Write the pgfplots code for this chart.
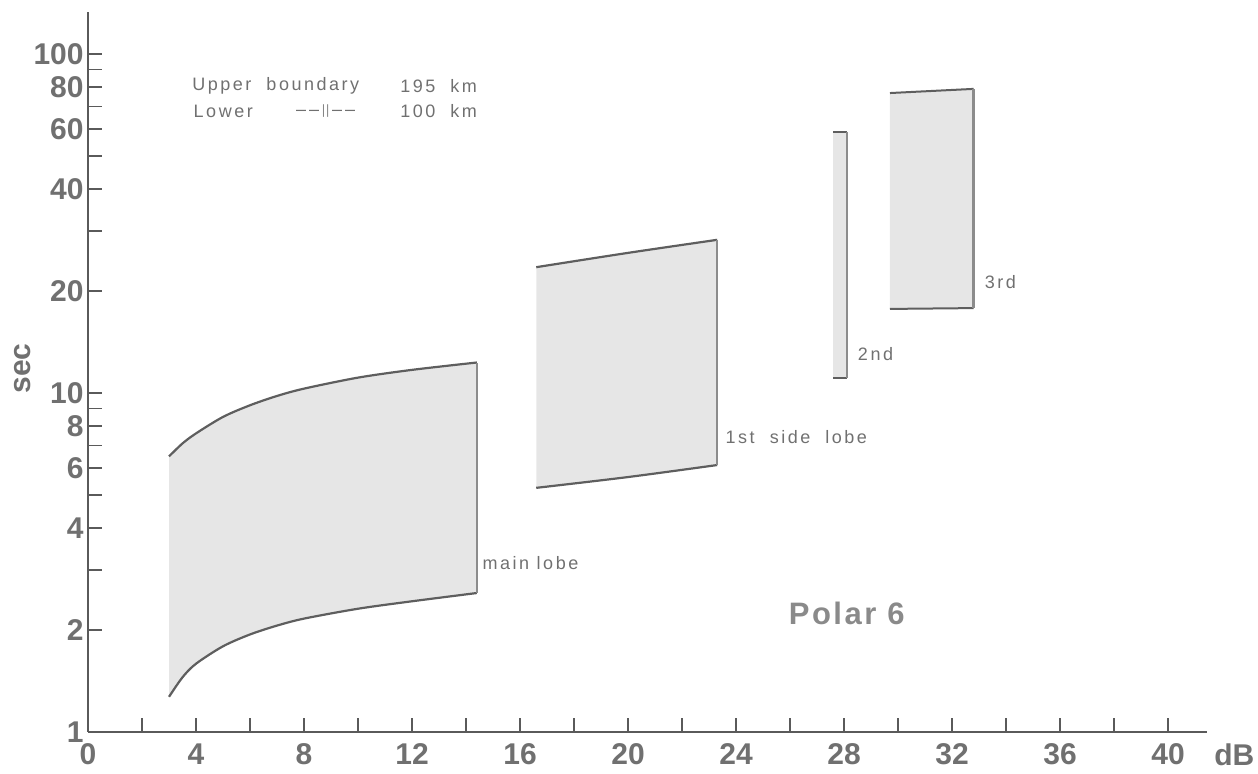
\documentclass[border=0pt]{standalone}
\usepackage{pgfplots}
\pgfplotsset{compat=1.18}
\usepgfplotslibrary{fillbetween}
\usepackage{fontspec}
\setmainfont{Liberation Sans}
\newfontfamily\lblfont[LetterSpace=14]{Liberation Sans}
\newfontfamily\polfont[LetterSpace=8]{Liberation Sans}
\definecolor{axgray}{HTML}{5A5A5A}
\definecolor{txtgray}{HTML}{707070}
\definecolor{lightgray}{HTML}{8A8A8A}
\definecolor{fillgray}{HTML}{E6E6E6}
\definecolor{edgegray}{HTML}{8C8C8C}
\definecolor{curvegray}{HTML}{5E5E5E}
\begin{document}
\begin{tikzpicture}
\begin{axis}[
  scale only axis, width=559.5pt, height=360pt,
  at={(0,0)}, anchor=south west,
  ymode=log, xmin=0, xmax=41.44, ymin=1, ymax=133,
  axis x line=bottom, axis y line=left,
  axis line style={-, draw=axgray, line width=1pt},
  tick align=inside,
  major tick length=7pt, minor tick length=7pt,
  every tick/.style={draw=axgray, line width=0.9pt},
  xtick={0,4,...,40}, minor xtick={2,6,...,38},
  xticklabels={0,4,8,12,16,20,24,28,32,36,40},
  ytick={1,2,4,6,8,10,20,40,60,80,100},
  yticklabels={1,2,4,6,8,10,20,40,60,80,100},
  minor ytick={3,5,7,9,30,50,70,90},
  ticklabel style={font=\fontsize{15}{15}\selectfont\bfseries, text=txtgray},
  xticklabel style={inner sep=0pt, yshift=-5.5pt},
  yticklabel style={inner sep=2pt},
  /pgf/number format/assume math mode=true,
  clip=false,
]
% main lobe
\addplot[name path=mU, draw=none, smooth] coordinates {(3,6.5)(3.5,7.1)(4,7.6)(5,8.5)(6,9.2)(7,9.8)(8,10.3)(10,11.1)(12,11.7)(14.4,12.3)};
\addplot[name path=mL, draw=none, smooth] coordinates {(3,1.27)(3.5,1.45)(4,1.59)(5,1.79)(6,1.94)(7,2.06)(8,2.16)(10,2.31)(12,2.43)(14.4,2.57)};
\addplot[fillgray] fill between[of=mU and mL];
% 1st side lobe
\addplot[name path=sU, draw=none, smooth] coordinates {(16.6,23.5)(20,25.9)(23.3,28.3)};
\addplot[name path=sL, draw=none, smooth] coordinates {(16.6,5.25)(20,5.65)(23.3,6.13)};
\addplot[fillgray] fill between[of=sU and sL];
% 2nd
\addplot[name path=tU, draw=none] coordinates {(27.6,59)(28.1,59)};
\addplot[name path=tL, draw=none] coordinates {(27.6,11.1)(28.1,11.1)};
\addplot[fillgray] fill between[of=tU and tL];
% 3rd
\addplot[name path=rU, draw=none] coordinates {(29.7,76.7)(32.8,78.9)};
\addplot[name path=rL, draw=none] coordinates {(29.7,17.7)(32.8,17.8)};
\addplot[fillgray] fill between[of=rU and rL];
% outlines
\addplot[curvegray, line width=1.1pt, smooth] coordinates {(3,6.5)(3.5,7.1)(4,7.6)(5,8.5)(6,9.2)(7,9.8)(8,10.3)(10,11.1)(12,11.7)(14.4,12.3)};
\addplot[curvegray, line width=1.1pt, smooth] coordinates {(3,1.27)(3.5,1.45)(4,1.59)(5,1.79)(6,1.94)(7,2.06)(8,2.16)(10,2.31)(12,2.43)(14.4,2.57)};
\addplot[edgegray, line width=1.3pt] coordinates {(14.4,2.57)(14.4,12.3)};
\addplot[curvegray, line width=1.1pt, smooth] coordinates {(16.6,23.5)(20,25.9)(23.3,28.3)};
\addplot[curvegray, line width=1.1pt, smooth] coordinates {(16.6,5.25)(20,5.65)(23.3,6.13)};
\addplot[edgegray, line width=1.3pt] coordinates {(23.3,6.13)(23.3,28.3)};
\addplot[curvegray, line width=1pt] coordinates {(27.6,59)(28.1,59)};
\addplot[curvegray, line width=1pt] coordinates {(27.6,11.1)(28.1,11.1)};
\addplot[edgegray, line width=1.1pt] coordinates {(28.1,11.1)(28.1,59)};
\addplot[curvegray, line width=1pt] coordinates {(29.7,76.7)(32.8,78.9)};
\addplot[curvegray, line width=1pt] coordinates {(29.7,17.7)(32.8,17.8)};
\addplot[edgegray, line width=1.3pt] coordinates {(32.8,17.8)(32.8,78.9)};
% texts
\node[xshift=-32.5pt, rotate=90, inner sep=0pt, font=\fontsize{15}{15}\selectfont\bfseries, text=txtgray] at (axis cs:0,11.8) {sec};
\node[anchor=north, inner sep=0pt, font=\fontsize{15}{15}\selectfont\bfseries, text=txtgray, yshift=-5.5pt] at (axis cs:42.45,1) {dB};
\node[anchor=west, font=\lblfont\fontsize{9}{10}\selectfont, text=txtgray, inner sep=0pt] at (axis cs:14.6,3.15) {main\ lobe};
\node[anchor=west, font=\lblfont\fontsize{9}{10}\selectfont, text=txtgray, inner sep=0pt] at (axis cs:23.6,7.42) {1st\ \ side\ \ lobe};
\node[anchor=west, font=\lblfont\fontsize{9}{10}\selectfont, text=txtgray, inner sep=0pt] at (axis cs:28.5,13.0) {2nd};
\node[anchor=west, font=\lblfont\fontsize{9}{10}\selectfont, text=txtgray, inner sep=0pt] at (axis cs:33.2,21.2) {3rd};
\node[font=\polfont\fontsize{15.5}{16}\selectfont\bfseries, text=lightgray] at (axis cs:28.1,2.23) {Polar 6};
\node[anchor=west, font=\lblfont\fontsize{9}{10}\selectfont, text=txtgray, inner sep=0pt] at (axis cs:3.85,80.5) {Upper\ \ boundary};
\node[anchor=west, font=\lblfont\fontsize{9}{10}\selectfont, text=txtgray, inner sep=0pt] at (axis cs:11.55,80.5) {195\ \ km};
\node[anchor=west, font=\lblfont\fontsize{9}{10}\selectfont, text=txtgray, inner sep=0pt] at (axis cs:3.9,67.9) {Lower};
\node[font=\lblfont\fontsize{9}{10}\selectfont, text=txtgray, inner sep=0pt] at (axis cs:8.8,67.9) {\textendash\,\textendash\,\raisebox{0.1ex}{\scalebox{0.6}[0.75]{||}}\,\textendash\,\textendash};
\node[anchor=west, font=\lblfont\fontsize{9}{10}\selectfont, text=txtgray, inner sep=0pt] at (axis cs:11.55,67.9) {100\ \ km};
\end{axis}
\path (-44pt,-21pt) rectangle (585pt,366pt);
\end{tikzpicture}
\end{document}
